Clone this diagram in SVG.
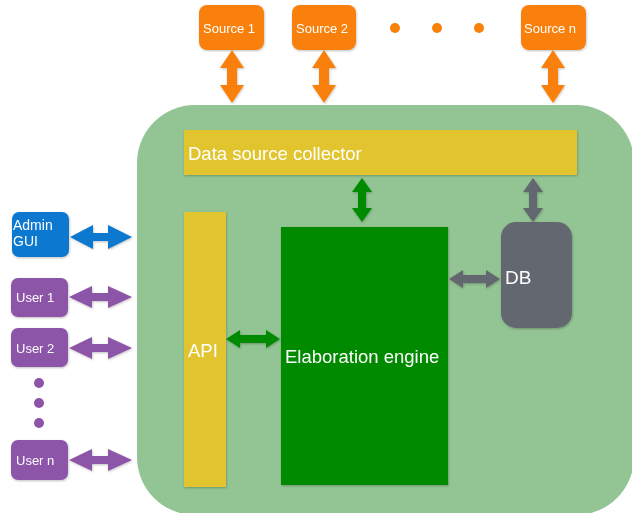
<svg xmlns="http://www.w3.org/2000/svg" width="632" height="513" viewBox="0 0 632 513">
  <style>
    text { font-family: "Liberation Sans", Arial, sans-serif; fill: #ffffff; }
    .src { fill: #F98009; }
    .usr { fill: #8D54A8; }
    .adm { fill: #0A78D0; }
    .yel { fill: #E2C52E; }
    .eng { fill: #008A00; }
    .db  { fill: #646770; }
    .s13 { font-size: 13px; }
    .s18 { font-size: 18.5px; }
  </style>
  <defs>
    <filter id="sh" x="-10%" y="-10%" width="130%" height="130%">
      <feDropShadow dx="0.6" dy="1" stdDeviation="0.8" flood-color="#000" flood-opacity="0.25"/>
    </filter>
  </defs>

  <rect width="632" height="513" fill="#ffffff"/>

  <!-- system container -->
  <g id="system">
    <rect x="137" y="105" width="497" height="410" rx="58" fill="#93C493"/>
  </g>

  <!-- top sources -->
  <g id="source1" filter="url(#sh)">
    <rect class="src" x="199" y="5" width="65" height="45" rx="8"/>
    <text class="s13" x="203" y="33">Source 1</text>
  </g>
  <g id="source2" filter="url(#sh)">
    <rect class="src" x="292" y="5" width="64" height="45" rx="8"/>
    <text class="s13" x="296" y="33">Source 2</text>
  </g>
  <g id="source-dots">
    <circle class="src" cx="395" cy="28" r="5"/>
    <circle class="src" cx="437" cy="28" r="5"/>
    <circle class="src" cx="479" cy="28" r="5"/>
  </g>
  <g id="sourcen" filter="url(#sh)">
    <rect class="src" x="521" y="5" width="65" height="45" rx="8"/>
    <text class="s13" x="524" y="33">Source n</text>
  </g>

  <!-- left clients -->
  <g id="admin" filter="url(#sh)">
    <rect class="adm" x="12" y="212" width="57" height="45" rx="7"/>
    <text x="13" y="230" font-size="14">Admin</text>
    <text x="13" y="246" font-size="14">GUI</text>
  </g>
  <g id="user1" filter="url(#sh)">
    <rect class="usr" x="11" y="278" width="57" height="39" rx="7"/>
    <text class="s13" x="16" y="302">User 1</text>
  </g>
  <g id="user2" filter="url(#sh)">
    <rect class="usr" x="11" y="328" width="57" height="39" rx="7"/>
    <text class="s13" x="16" y="353">User 2</text>
  </g>
  <g id="user-dots">
    <circle class="usr" cx="39" cy="383" r="5"/>
    <circle class="usr" cx="39" cy="403" r="5"/>
    <circle class="usr" cx="39" cy="423" r="5"/>
  </g>
  <g id="usern" filter="url(#sh)">
    <rect class="usr" x="11" y="440" width="57" height="40" rx="7"/>
    <text class="s13" x="16" y="465">User n</text>
  </g>

  <!-- inner components -->
  <g id="collector" filter="url(#sh)">
    <rect class="yel" x="184" y="130" width="393" height="45"/>
    <text class="s18" x="188" y="160">Data source collector</text>
  </g>
  <g id="api" filter="url(#sh)">
    <rect class="yel" x="184" y="212" width="42" height="275"/>
    <text class="s18" x="188" y="357">API</text>
  </g>
  <g id="engine" filter="url(#sh)">
    <rect class="eng" x="281" y="227" width="167" height="258"/>
    <text class="s18" x="285" y="363">Elaboration engine</text>
  </g>
  <g id="db" filter="url(#sh)">
    <rect class="db" x="501" y="222" width="71" height="106" rx="15"/>
    <text x="505" y="284" font-size="19">DB</text>
  </g>

  <!-- connectors: double-headed block arrows -->
  <g id="connectors" filter="url(#sh)">
    <!-- sources to collector (vertical) -->
    <polygon class="src" points="232,50 244,68 237,68 237,85 244,85 232,103 220,85 227,85 227,68 220,68"/>
    <polygon class="src" points="324,50 336,68 329,68 329,85 336,85 324,103 312,85 319,85 319,68 312,68"/>
    <polygon class="src" points="553,50 565,68 558,68 558,85 565,85 553,103 541,85 548,85 548,68 541,68"/>

    <!-- clients to system (horizontal) -->
    <polygon class="adm" points="70,237 93,225 93,233 108,233 108,225 132,237 108,249 108,241 93,241 93,249"/>
    <polygon class="usr" points="69,297 92,286 92,293 108,293 108,286 132,297 108,308 108,301 92,301 92,308"/>
    <polygon class="usr" points="69,348 92,337 92,344 108,344 108,337 132,348 108,359 108,352 92,352 92,359"/>
    <polygon class="usr" points="69,460 92,449 92,456 108,456 108,449 132,460 108,471 108,464 92,464 92,471"/>

    <!-- collector to engine / db -->
    <polygon class="eng" points="362,178 372,192 366,192 366,208 372,208 362,222 352,208 358,208 358,192 352,192"/>
    <polygon class="db" points="533,178 543,192 537,192 537,208 543,208 533,222 523,208 529,208 529,192 523,192"/>

    <!-- api to engine, engine to db -->
    <polygon class="eng" points="226,339 240,330 240,335 266,335 266,330 280,339 266,348 266,343 240,343 240,348"/>
    <polygon class="db" points="449,279 463,270 463,275 486,275 486,270 500,279 486,288 486,283 463,283 463,288"/>
  </g>
</svg>
